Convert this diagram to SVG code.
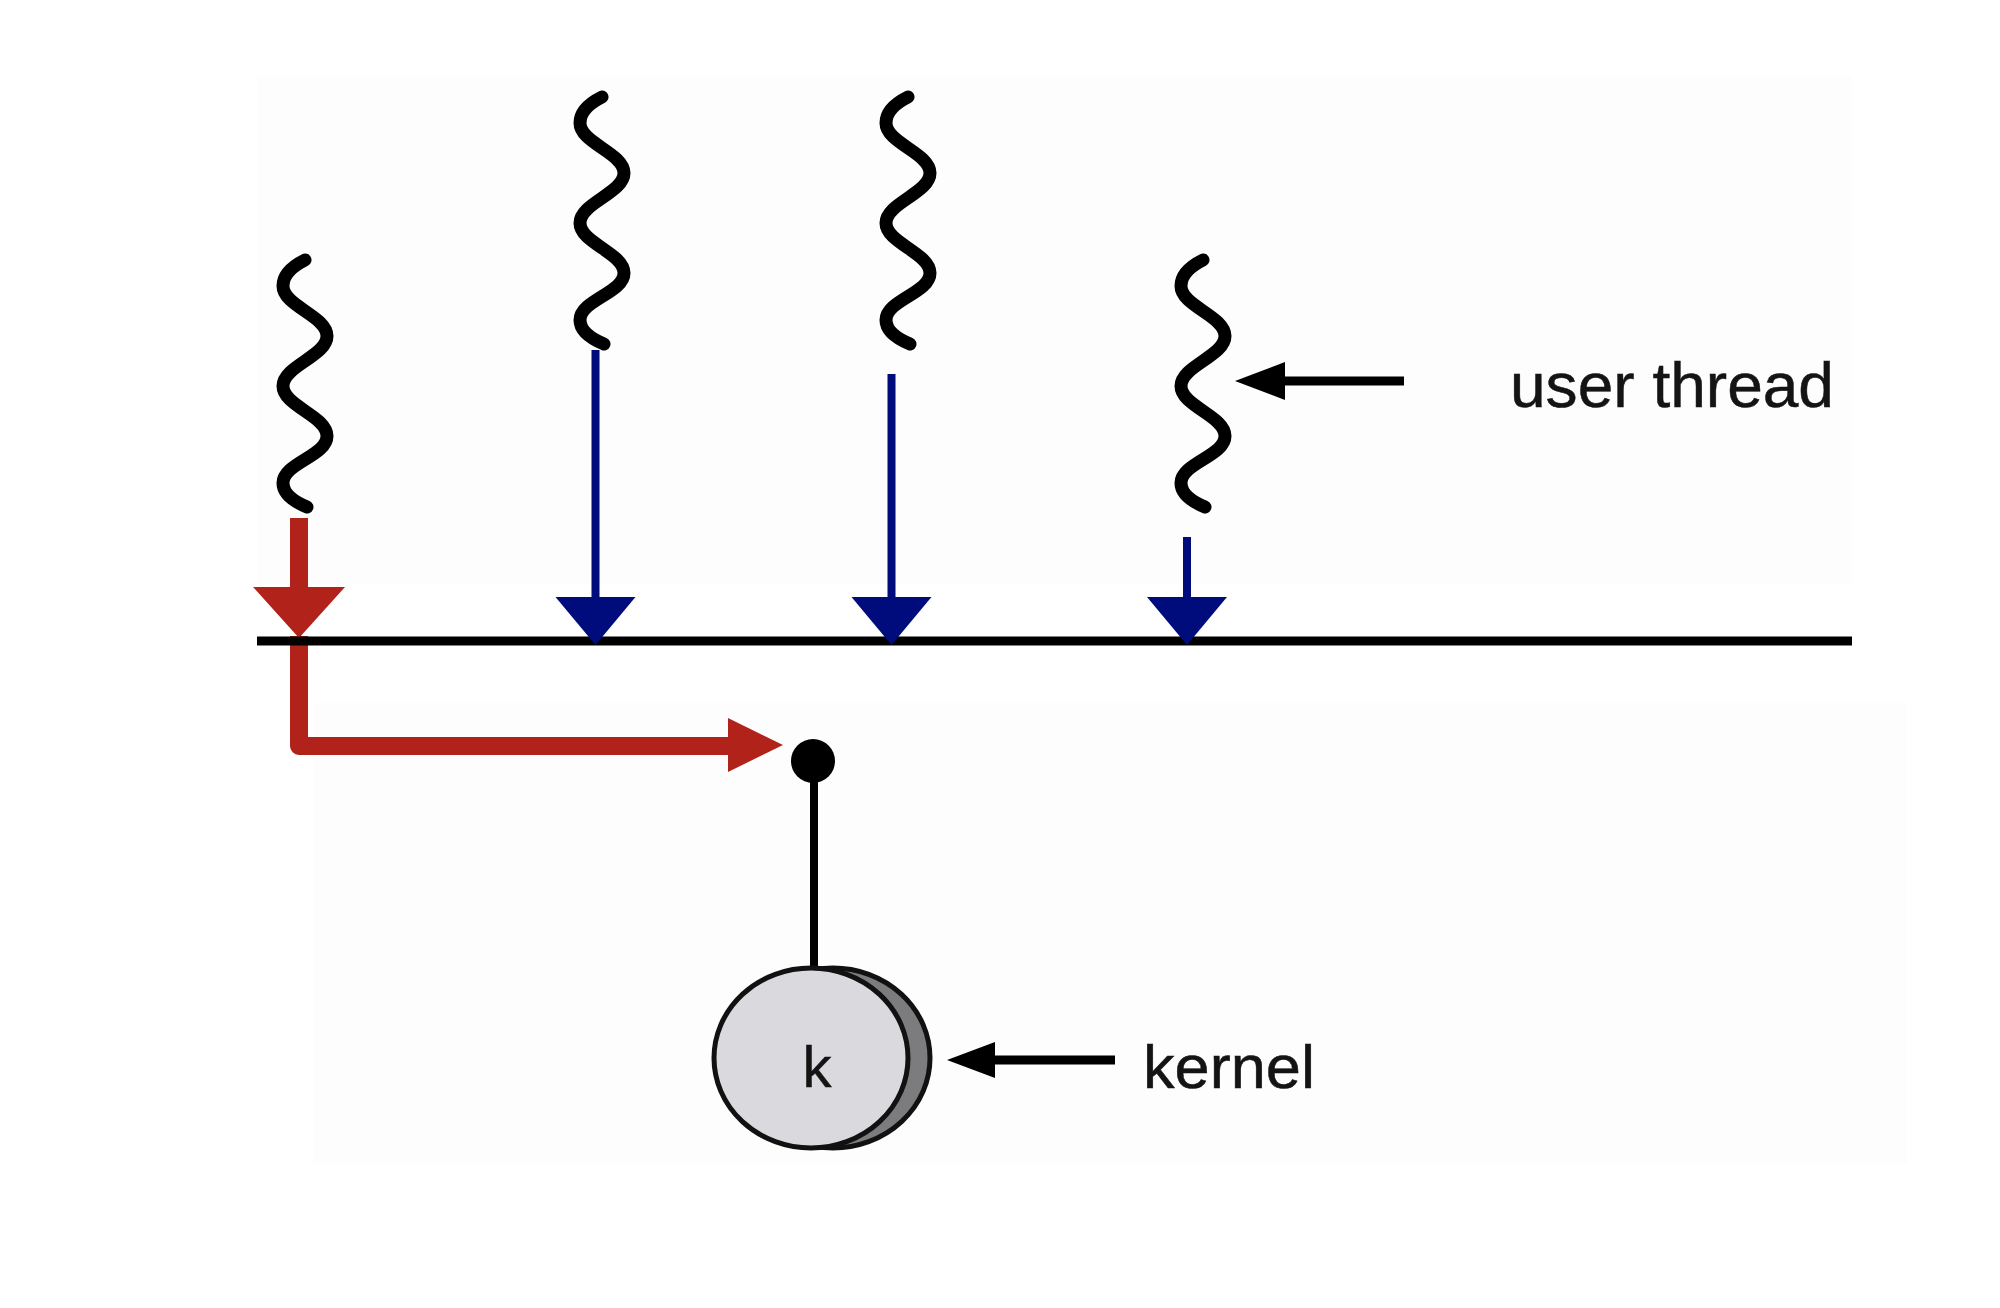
<svg xmlns="http://www.w3.org/2000/svg" width="2000" height="1308" viewBox="0 0 2000 1308">
  <style>
    .thread { fill: none; stroke: #000; stroke-width: 13; stroke-linecap: round; stroke-linejoin: round; }
    .blue { stroke: #000b7c; stroke-width: 8; fill: none; }
    .bluehead { fill: #000b7c; }
    .red { stroke: #b0221a; stroke-width: 18; fill: none; stroke-linejoin: round; }
    .redhead { fill: #b0221a; }
    .ptr { stroke: #000; stroke-width: 9; fill: none; }
    .ptrhead { fill: #000; }
    .label { font-family: "Liberation Sans", Arial, Helvetica, sans-serif; fill: #141414; stroke: #141414; stroke-width: 0.5; }
    .panel { fill: #fdfdfd; }
  </style>
  <defs>
    <path id="squiggle" d="M 0 0 C -12 6 -22 14 -22 26 C -22 46 22 56 22 76 C 22 96 -22 106 -22 126 C -22 146 22 156 22 176 C 22 196 -22 203 -22 223 C -22 235 -10 242 2 247"/>
  </defs>
  <rect x="0" y="0" width="2000" height="1308" fill="#ffffff"/>
  <rect class="panel" x="257" y="76" width="1595" height="508"/>
  <rect class="panel" x="313" y="703" width="1594" height="460"/>

  <g id="thread1"><use href="#squiggle" class="thread" transform="translate(305 260)"/></g>
  <g id="thread2"><use href="#squiggle" class="thread" transform="translate(602 97)"/></g>
  <g id="thread3"><use href="#squiggle" class="thread" transform="translate(908 97)"/></g>
  <g id="thread4"><use href="#squiggle" class="thread" transform="translate(1203 260)"/></g>

  <g id="connectors">
    <!-- red path: thread1 to kernel thread -->
    <line class="red" x1="299" y1="518" x2="299" y2="592"/>
    <polygon class="redhead" points="253,587 345,587 299,638"/>
    <path class="red" d="M 299 636 V 746 H 732"/>
    <polygon class="redhead" points="728,718 783,745 728,772"/>
    <!-- user-kernel boundary -->
    <line x1="257" y1="641" x2="1852" y2="641" stroke="#000" stroke-width="9"/>
    <!-- blue arrows -->
    <line class="blue" x1="595.5" y1="350" x2="595.5" y2="600"/>
    <polygon class="bluehead" points="555.5,597 635.5,597 595.5,645"/>
    <line class="blue" x1="891.5" y1="374" x2="891.5" y2="600"/>
    <polygon class="bluehead" points="851.5,597 931.5,597 891.5,645"/>
    <line class="blue" x1="1187" y1="537" x2="1187" y2="600"/>
    <polygon class="bluehead" points="1147,597 1227,597 1187,645"/>
    <!-- dot to kernel -->
    <line x1="814" y1="761" x2="814" y2="970" stroke="#000" stroke-width="8"/>
    <!-- label pointers -->
    <line class="ptr" x1="1404" y1="381" x2="1280" y2="381"/>
    <polygon class="ptrhead" points="1235,381 1285,362 1285,400"/>
    <line class="ptr" x1="1115" y1="1060" x2="990" y2="1060"/>
    <polygon class="ptrhead" points="947,1060 995,1042 995,1078"/>
  </g>

  <g id="kernel-entry"><circle cx="813" cy="761" r="22" fill="#000"/></g>

  <g id="kernel">
    <ellipse cx="833" cy="1058" rx="97" ry="90" fill="#7c7c7e" stroke="#111" stroke-width="5"/>
    <ellipse cx="811" cy="1058" rx="97" ry="90" fill="#dad9de" stroke="#111" stroke-width="5"/>
    <text class="label" x="817" y="1087" font-size="58" text-anchor="middle">k</text>
  </g>

  <g id="label-user-thread">
    <text class="label" x="1510" y="407" font-size="63" textLength="324" lengthAdjust="spacingAndGlyphs">user thread</text>
  </g>
  <g id="label-kernel">
    <text class="label" x="1143" y="1088" font-size="62" textLength="172" lengthAdjust="spacingAndGlyphs">kernel</text>
  </g>
</svg>
